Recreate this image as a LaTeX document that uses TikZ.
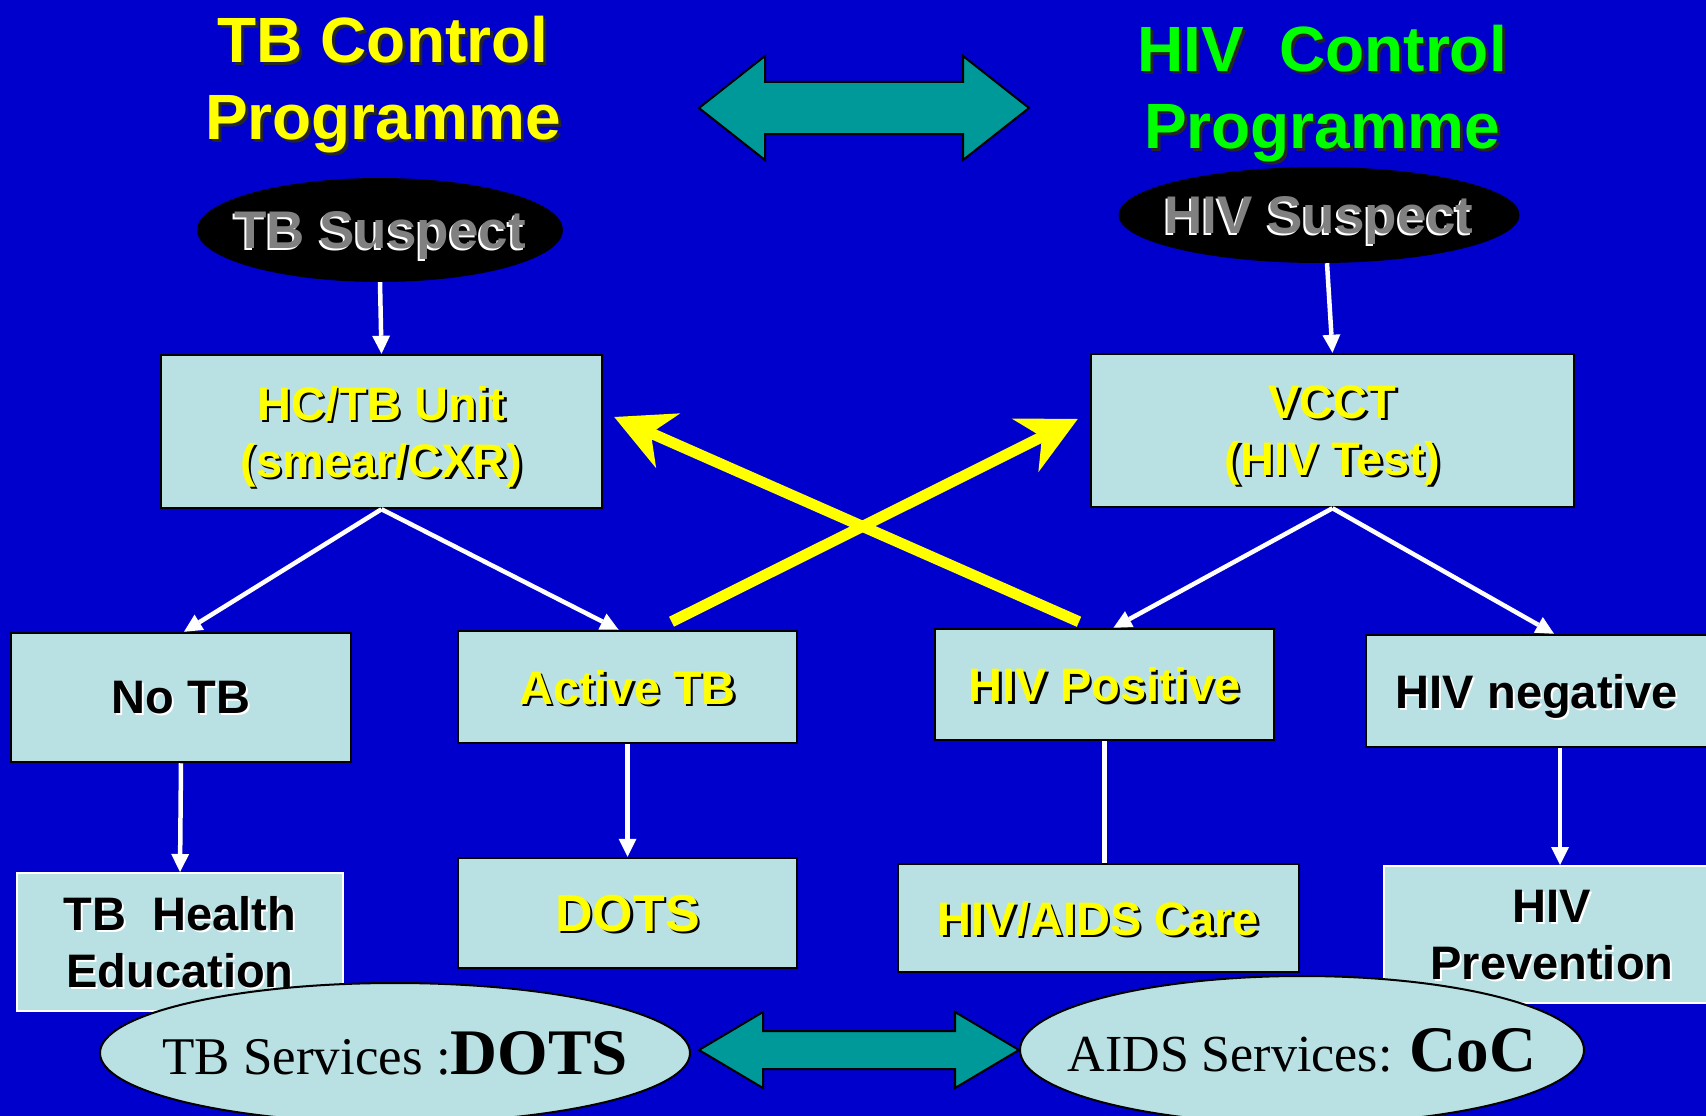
\documentclass[tikz,border=0pt]{standalone}
\usepackage{fontspec}
\setmainfont{Liberation Sans}
\newfontfamily\tnr{Liberation Serif}
\usetikzlibrary{arrows.meta,shapes.geometric,calc}
\definecolor{bgblue}{RGB}{0,0,204}
\definecolor{boxblue}{RGB}{185,224,227}
\definecolor{ylw}{RGB}{255,255,0}
\definecolor{grn}{RGB}{0,255,0}
\definecolor{tealc}{RGB}{0,153,153}
\definecolor{grayt}{RGB}{128,128,128}
\newcommand{\shd}[5]{\leavevmode\rlap{\kern#3\raisebox{#4}{\color{#2}#5}}{\color{#1}#5}}
\newcommand{\ytx}[1]{\shd{ylw}{black}{2.5pt}{-2.5pt}{#1}}
\newcommand{\btx}[1]{\shd{black}{white}{2pt}{-2pt}{#1}}
\newcommand{\gtx}[1]{\shd{grayt}{white}{-2pt}{-2pt}{#1}}
\newcommand{\ttx}[2]{\shd{#1}{black!85}{3pt}{-3pt}{#2}}
\begin{document}
\begin{tikzpicture}[x=1pt,y=-1pt,
  box/.style={draw=black,line width=2.5pt,fill=boxblue,inner sep=0pt,align=center,
    text depth=0pt,font=\fontsize{47}{57}\selectfont\bfseries},
  wbox/.style={box,draw=white,line width=2pt},
  ttl/.style={inner sep=0pt,align=center,text depth=0pt,font=\fontsize{64}{77}\selectfont\bfseries},
  suspect/.style={ellipse,fill=black,inner sep=0pt},
  sustext/.style={inner sep=0pt,text depth=0pt,font=\fontsize{53}{60}\selectfont\bfseries},
  svc/.style={ellipse,draw=black,line width=2pt,fill=boxblue,inner sep=0pt},
  svctext/.style={inner sep=0pt,text depth=0pt,font=\tnr},
  warrow/.style={draw=white,line width=4.5pt,-{Triangle[length=18pt,width=18pt,line width=0pt]}},
  wline/.style={draw=white,line width=4.5pt},
  yarrow/.style={draw=ylw,line width=11pt,-{Stealth[length=59pt,width=60pt,inset=19pt,line width=0pt]}},
  dblarrow/.style={fill=tealc,draw=black,line width=2pt,line join=miter}
]
\useasboundingbox (0,0) rectangle (1706,1116);
\fill[bgblue] (0,0) rectangle (1706,1116);
\clip (0,0) rectangle (1706,1116);

% titles
\node[ttl] (tbtitle) at (383,78) {\ttx{ylw}{TB Control}\\\ttx{ylw}{Programme}};
\node[ttl] (hivtitle) at (1322,87) {\ttx{grn}{HIV\ \ Control}\\\ttx{grn}{Programme}};

% double arrows
\draw[dblarrow] (699,108) -- (765,56) -- (765,82) -- (963,82) -- (963,56) -- (1029,108)
  -- (963,160) -- (963,134) -- (765,134) -- (765,160) -- cycle;
\draw[dblarrow] (699,1050) -- (763,1012) -- (763,1031) -- (955,1031) -- (955,1012) -- (1019,1050)
  -- (955,1088) -- (955,1069) -- (763,1069) -- (763,1088) -- cycle;

% suspects
\node[suspect,minimum width=366pt,minimum height=104pt,
  label={[sustext,name=tbsl]center:{\gtx{TB Suspect}}}] (tbs) at (380,230) {};
\node[suspect,minimum width=401pt,minimum height=96pt,
  label={[sustext,name=hivsl]center:{\gtx{HIV Suspect}}}] (hivs) at (1319,215) {};

% boxes
\node[box,minimum width=441pt,minimum height=153pt] (hctb) at (381.5,431.5) {\ytx{HC/TB Unit}\\\ytx{(smear/CXR)}};
\node[box,minimum width=483pt,minimum height=153pt] (vcct) at (1332.5,430.5) {\ytx{VCCT}\\\ytx{(HIV Test)}};
\node[box,minimum width=340pt,minimum height=129pt] (notb) at (181,697.5) {\btx{No TB}};
\node[box,minimum width=339pt,minimum height=112pt] (active) at (627.5,687) {\ytx{Active TB}};
\node[box,minimum width=339pt,minimum height=111pt] (hivpos) at (1104.5,684.5) {\ytx{HIV Positive}};
\node[box,minimum width=342pt,minimum height=112pt] (hivneg) at (1537,691) {\btx{HIV negative}};
\node[wbox,minimum width=326pt,minimum height=138pt] (tbhe) at (180,942) {\btx{TB\ \ Health}\\\btx{Education}};
\node[box,minimum width=339pt,minimum height=110pt,font=\fontsize{52}{60}\selectfont\bfseries] (dots) at (627.5,913) {\ytx{DOTS}};
\node[box,minimum width=401pt,minimum height=108pt] (care) at (1098.5,918) {\ytx{HIV/AIDS Care}};
\node[wbox,minimum width=336pt,minimum height=137pt] (prev) at (1552,934.5) {\btx{HIV}\\\btx{Prevention}};

% white connectors
\draw[warrow] (tbs.south) -- (hctb.north);
\draw[warrow] ([xshift=8pt]hivs.south) -- (vcct.north);
\draw[warrow] (hctb.south) -- ([xshift=3pt]notb.north);
\draw[warrow] (hctb.south) -- ([xshift=-9pt]active.north);
\draw[warrow] (vcct.south) -- ([xshift=9pt]hivpos.north);
\draw[warrow] (vcct.south) -- ([xshift=17pt]hivneg.north);
\draw[warrow] (notb.south) -- (tbhe.north);
\draw[warrow] (active.south) -- (dots.north);
\draw[wline] (hivpos.south) -- (hivpos.south |- care.north);
\draw[warrow] ([xshift=8pt]prev.north |- hivneg.south) -- ([xshift=8pt]prev.north);

% yellow cross arrows
\draw[yarrow] ($(active.north)+(44,-8)$) -- ($(vcct.west)+(-12,-11.5)$);
\draw[yarrow] ($(hivpos.north)+(-25.5,-6)$) -- ($(hctb.east)+(11,-14.5)$);

% service ellipses
\node[svc,minimum width=590pt,minimum height=140pt,
  label={[svctext,name=tbsvcl]center:{{\fontsize{53}{60}\selectfont TB Services :}{\fontsize{65}{70}\selectfont\bfseries DOTS}}}] (tbsvc) at (395,1053) {};
\node[svc,minimum width=564pt,minimum height=148pt,
  label={[svctext,name=aidsl]center:{{\fontsize{52}{60}\selectfont AIDS Services: }{\fontsize{65}{70}\selectfont\bfseries CoC}}}] (aids) at (1302,1050) {};
\end{tikzpicture}
\end{document}
